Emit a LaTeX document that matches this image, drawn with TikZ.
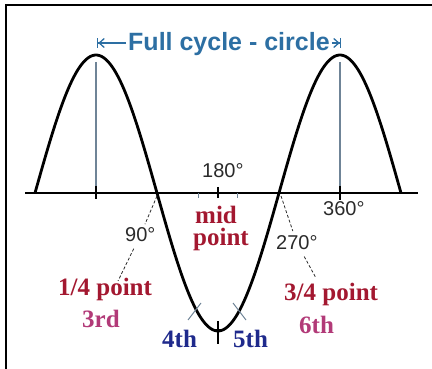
\documentclass[tikz,border=0pt]{standalone}
\usepackage{fontspec}
\setmainfont{Liberation Serif}
\setsansfont{Liberation Sans}
\usetikzlibrary{arrows.meta}
\definecolor{cblue}{HTML}{2D6FA3}
\definecolor{cred}{HTML}{A31830}
\definecolor{cpink}{HTML}{B23A78}
\definecolor{cnavy}{HTML}{1F2A8C}
\definecolor{cgray}{HTML}{2A2A2A}
\definecolor{csteel}{HTML}{6F8497}
\tikzset{
  deglabel/.style={anchor=base west, inner sep=0pt, text=cgray, font=\sffamily\fontsize{20}{22}\selectfont},
  ptlabel/.style={anchor=base west, inner sep=0pt, font=\bfseries\fontsize{25}{27}\selectfont},
  leader/.style={draw=cgray, line width=0.8pt, dash pattern=on 3pt off 2pt},
  fcarrow/.style={draw=cblue, line width=1.3pt, -{Straight Barb[length=5pt,width=9pt] Bar[width=10pt]}},
  peakline/.style={draw=csteel, line width=1.2pt},
  tickmark/.style={draw=black, line width=1.2pt},
  bluetick/.style={draw=csteel, line width=1pt}
}
\begin{document}
\begin{tikzpicture}[x=1pt,y=-1pt]
\useasboundingbox (0,0) rectangle (432,369);
% frame (left and top)
\draw[line width=2pt] (6,369) -- (6,5) -- (432,5);
% axis
\coordinate (axl) at (25,193);
\coordinate (axr) at (418,193);
\draw[line width=2pt] (axl) -- (axr);
% peak verticals
\coordinate (p1) at (96,62);
\coordinate (p1b) at (96,193);
\coordinate (p2) at (340,62);
\coordinate (p2b) at (340,193);
\draw[peakline] (p1) -- (p1b);
\draw[peakline] (p2) -- (p2b);
% axis ticks
\draw[tickmark] (96,186) -- (96,199);
\draw[tickmark] (218,187) -- (218,198);
\draw[tickmark] (340,186) -- (340,200);
\draw[bluetick] (198,193) -- (198,198);
\draw[bluetick] (237,193) -- (237,198);
% sine curve
\draw[line width=2.8pt, line join=round] plot[domain=0:366, samples=160, smooth] ({35+\x}, {193-138*sin(1.47541*\x)});
% trough plus
\draw[line width=1.3pt] (218,321) -- (218,344);
\draw[line width=1.3pt] (213,330) -- (223,330);
% 4th / 5th ticks
\coordinate (t4a) at (201,303);
\coordinate (t4b) at (188,320);
\coordinate (t5a) at (233,303);
\coordinate (t5b) at (246,320);
\draw[bluetick] (t4a) -- (t4b);
\draw[bluetick] (t5a) -- (t5b);
% title
\node[anchor=base west, inner sep=0pt, text=cblue, font=\sffamily\bfseries\fontsize{25}{27}\selectfont] (fc) at (128,51) {Full cycle - circle};
\coordinate (fl) at (97,43);
\coordinate (fr) at (341,43);
\draw[fcarrow] ([xshift=-2pt]fc.west |- fl) -- (fl);
\draw[fcarrow] ([xshift=2pt]fc.east |- fr) -- (fr);
% degree labels
\node[deglabel] (l180) at (202,178) {180°};
\node[deglabel] (l90) at (125,242) {90°};
\node[deglabel] (l270) at (276,250) {270°};
\node[deglabel] (l360) at (323,215) {360°};
% point labels
\node[ptlabel, text=cred] (q1) at (58,295) {1/4 point};
\node[ptlabel, text=cpink] (n3) at (82,327) {3rd};
\node[ptlabel, text=cred] (mid) at (195,223) {mid};
\node[ptlabel, text=cred] (midpt) at (193,246) {point};
\node[ptlabel, text=cnavy] (n4) at (162,347) {4th};
\node[ptlabel, text=cnavy] (n5) at (233,348) {5th};
\node[ptlabel, text=cred] (q3) at (284,300) {3/4 point};
\node[ptlabel, text=cpink] (n6) at (299,333) {6th};
% leaders
\coordinate (c90) at (157,196);
\coordinate (e90) at (118,281);
\coordinate (c270) at (281,196);
\coordinate (e270) at (316,278);
\draw[leader, shorten >=4pt] (c90) -- (l90);
\draw[leader, shorten <=7pt] (l90) -- (e90);
\draw[leader, shorten >=5pt] (c270) -- (l270);
\draw[leader, shorten <=7pt] (l270) -- (e270);
\end{tikzpicture}
\end{document}
